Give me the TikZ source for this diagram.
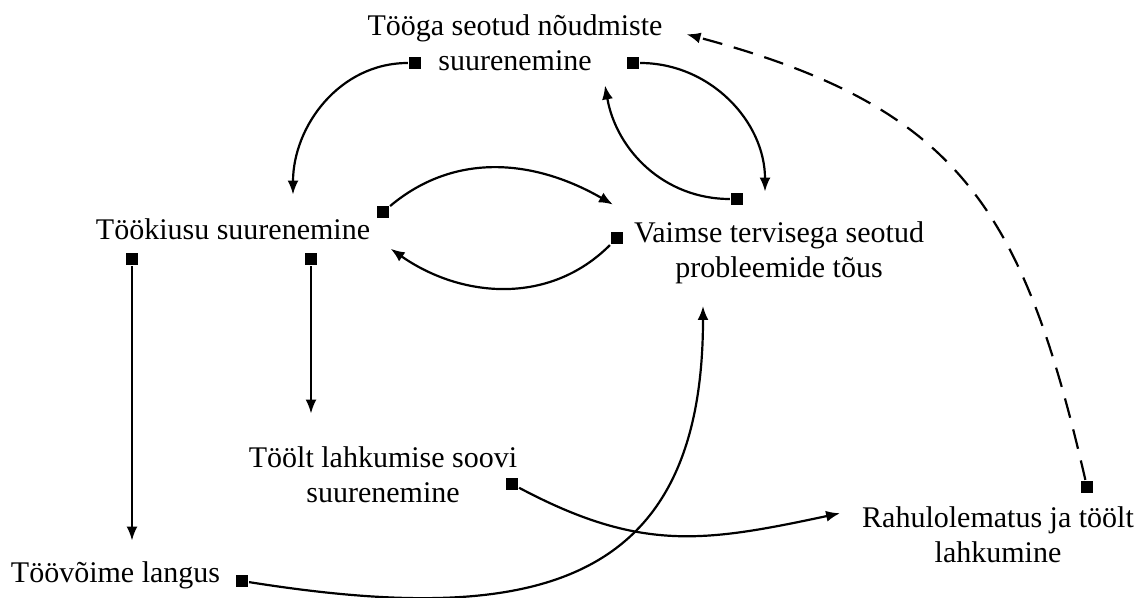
\documentclass[tikz,border=0pt]{standalone}
\usepackage{fontspec}
\setmainfont{Liberation Serif}
\usetikzlibrary{arrows.meta}

\begin{document}
\begin{tikzpicture}[x=0.5pt, y=-0.5pt, >={Latex[length=7pt,width=5.5pt]}, line width=1.1pt,
txt/.style={font=\fontsize{15}{17.5}\selectfont, align=center, inner sep=0pt, anchor=base},
sq/.style={fill=black, inner sep=0pt, minimum size=6pt}]
\useasboundingbox (0,0) rectangle (1144,598);
% texts (base = last line)
\node[txt] (dem) at (515,71) {Tööga seotud nõudmiste\\suurenemine};
\node[txt] (kius) at (233,240) {Töökiusu suurenemine};
\node[txt] (vaim) at (779,278) {Vaimse tervisega seotud\\probleemide tõus};
\node[txt] (soov) at (383,502) {Töölt lahkumise soovi\\suurenemine};
\node[txt] (rahu) at (998,562) {Rahulolematus ja töölt\\lahkumine};
\node[txt] (voim) at (115.5,582) {Töövõime langus};
% squares
\node[sq] (demL) at (415,63) {};
\node[sq] (demR) at (633,63) {};
\node[sq] (kiusT) at (383,212) {};
\node[sq] (kiusL) at (132,259) {};
\node[sq] (kiusM) at (311,259) {};
\node[sq] (vaimL) at (617,238) {};
\node[sq] (vaimT) at (737,199) {};
\node[sq] (soovR) at (512,484) {};
\node[sq] (rahuT) at (1087,487) {};
\node[sq] (voimR) at (242,581) {};
\path[->]
(demL) edge[out=180, in=90] ([shift={(60,-23.5)}]kius.north)
(demR) edge[out=0, in=90] ([shift={(-14,-29.5)}]vaim.north)
(vaimT) edge[out=180, in=-80] ([shift={(90,13)}]dem.south)
(kiusT) edge[out=40, in=150] ([shift={(-20,-16.5)}]vaim.north west)
(vaimL) edge[out=-135, in=-35] ([shift={(19.5,19)}]kius.east)
(kiusL) edge ([shift={(16.5,-19.5)}]voim.north)
(kiusM) edge ([shift={(-72,-31.5)}]soov.north)
(soovR) edge[out=-28, in=192, looseness=1.1] ([shift={(-21,-21)}]rahu.west)
(voimR) edge[out=-9, in=-90, looseness=1.37] ([shift={(-76,20.5)}]vaim.south)
(rahuT) edge[dash pattern=on 10pt off 6pt, out=103, in=-15, looseness=1.2] ([shift={(23,-9)}]dem.east);
\end{tikzpicture}
\end{document}
